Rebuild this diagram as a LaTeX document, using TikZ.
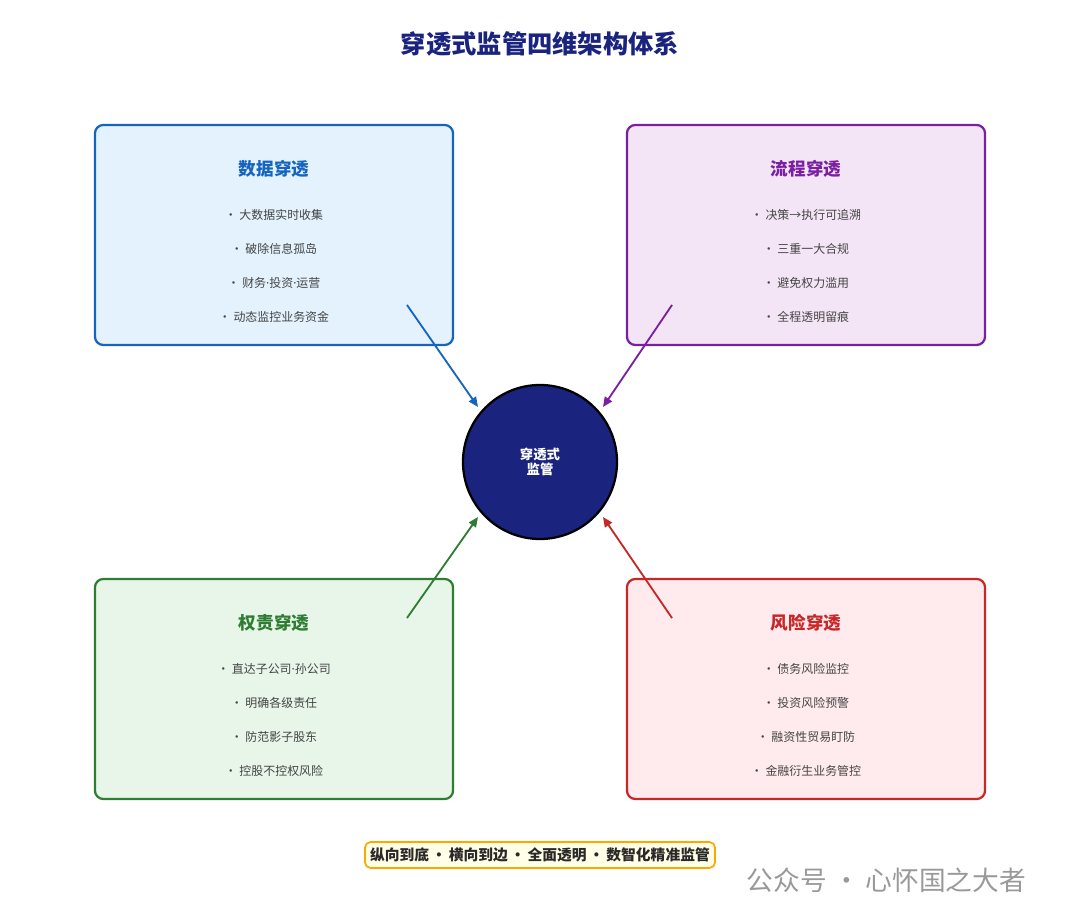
\documentclass[tikz,border=0pt]{standalone}
\usepackage{fontspec}
\setmainfont{Noto Sans CJK SC}
\newfontfamily\latinfont{Noto Sans}
\usepackage{xcolor}
\usetikzlibrary{positioning,calc,arrows.meta}
\definecolor{navy}{HTML}{1A237E}
\definecolor{cblue}{HTML}{1565C0}
\definecolor{fblue}{HTML}{E3F2FD}
\definecolor{cpurple}{HTML}{7B1FA2}
\definecolor{fpurple}{HTML}{F3E5F5}
\definecolor{cgreen}{HTML}{2E7D32}
\definecolor{fgreen}{HTML}{E8F5E9}
\definecolor{cred}{HTML}{C62828}
\definecolor{fred}{HTML}{FFEBEE}
\definecolor{itemgray}{HTML}{444444}
\newcommand{\mdot}{{\latinfont ·}}

\begin{document}
\begin{tikzpicture}[x=0.025cm,y=-0.025cm,
    panel/.style={draw=#1, line width=1.6pt, rounded corners=6pt, minimum width=8.95cm, minimum height=5.5cm},
    head/.style={text=#1, font=\bfseries\fontsize{12.5}{14}\selectfont},
    item/.style={text=itemgray, font=\fontsize{8.5}{10}\selectfont},
    link/.style={-{Triangle[length=7pt,width=6pt]}, line width=1.3pt, draw=#1, fill=#1}]
    % page frame
    \useasboundingbox (0,0) rectangle (1080,924);

    % Title
    \node[text=navy, font=\bfseries\fontsize{18}{21}\selectfont] (title) at (540,44) {穿透式监管四维架构体系};

    % Four panels
    \node[panel=cblue, fill=fblue] (data) at (274,235) {};
    \node[panel=cpurple, fill=fpurple] (flow) at (806,235) {};
    \node[panel=cgreen, fill=fgreen] (power) at (274,689) {};
    \node[panel=cred, fill=fred] (risk) at (806,689) {};

    % Data
    \node[head=cblue] (dataT) at (274,169) {数据穿透};
    \node[item] (d1) at (274,215) {• 大数据实时收集};
    \node[item] (d2) at (274,249) {• 破除信息孤岛};
    \node[item] (d3) at (274,283) {• 财务\mdot 投资\mdot 运营};
    \node[item] (d4) at (274,317) {• 动态监控业务资金};

    % Flow
    \node[head=cpurple] (flowT) at (806,169) {流程穿透};
    \node[item] (f1) at (806,215) {• 决策→执行可追溯};
    \node[item] (f2) at (806,249) {• 三重一大合规};
    \node[item] (f3) at (806,283) {• 避免权力滥用};
    \node[item] (f4) at (806,317) {• 全程透明留痕};

    % Power
    \node[head=cgreen] (powerT) at (274,623) {权责穿透};
    \node[item] (p1) at (274,669) {• 直达子公司\mdot 孙公司};
    \node[item] (p2) at (274,703) {• 明确各级责任};
    \node[item] (p3) at (274,737) {• 防范影子股东};
    \node[item] (p4) at (274,771) {• 控股不控权风险};

    % Risk
    \node[head=cred] (riskT) at (806,623) {风险穿透};
    \node[item] (r1) at (806,669) {• 债务风险监控};
    \node[item] (r2) at (806,703) {• 投资风险预警};
    \node[item] (r3) at (806,737) {• 融资性贸易盯防};
    \node[item] (r4) at (806,771) {• 金融衍生业务管控};

    % Centre
    \node[circle, draw=black, line width=1.6pt, fill=navy, minimum size=3.85cm, align=center,
          text=white, font=\bfseries\fontsize{9.5}{11}\selectfont] (core) at (540,462) {穿透式\\监管};

    % Arrows into the centre
    \coordinate (dataA) at (407,305);
    \coordinate (flowA) at (672,305);
    \coordinate (powerA) at (407,618);
    \coordinate (riskA) at (672,618);
    \coordinate (dataB) at (478,407);
    \coordinate (flowB) at (603,407);
    \coordinate (powerB) at (478,517);
    \coordinate (riskB) at (603,517);
    \draw[link=cblue] (dataA) -- (dataB);
    \draw[link=cpurple] (flowA) -- (flowB);
    \draw[link=cgreen] (powerA) -- (powerB);
    \draw[link=cred] (riskA) -- (riskB);

    % Footer
    \node[draw=orange!70!yellow, fill=yellow!10, line width=1.2pt, rounded corners=4pt,
          minimum width=8.75cm, minimum height=0.65cm, text=itemgray!60!black,
          font=\bfseries\fontsize{10.5}{12}\selectfont] (motto) at (540,855) {纵向到底\,·\,横向到边\,·\,全面透明\,·\,数智化精准监管};
    \node[text=gray!80, font=\fontsize{19}{21}\selectfont, anchor=west] (mark) at (742,880) {公众号 · 心怀国之大者};
\end{tikzpicture}
\end{document}
